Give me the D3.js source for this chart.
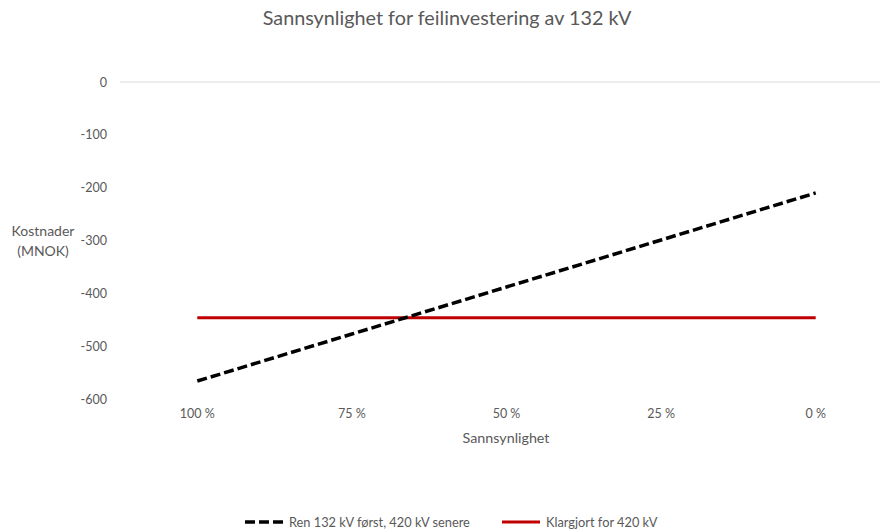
<!DOCTYPE html>
<html>
<head>
<meta charset="utf-8">
<script src="https://cdn.jsdelivr.net/npm/d3@7"></script>
<style>
  html, body { margin: 0; padding: 0; background: #fff; }
  svg text { font-family: Lato, "Open Sans", sans-serif; fill: #595959; }
</style>
</head>
<body>
<svg id="chart" width="880" height="532"></svg>
<script>
// Probability categories (x axis)
const categories = ["100 %", "75 %", "50 %", "25 %", "0 %"];
// Cost in MNOK for each alternative
const pure132First = [-566, -477, -388, -299, -210];
const prepared420 = [-446, -446, -446, -446, -446];
// Value axis ticks
const yTicks = [0, -100, -200, -300, -400, -500, -600];

const svg = d3.select("#chart");

const x = d3.scaleBand().domain(categories).range([120, 893]);
const y = d3.scaleLinear().domain([-600, 0]).range([399, 82]);

// Category axis line drawn at value 0
svg.append("line")
  .attr("x1", x.range()[0]).attr("x2", 880)
  .attr("y1", y(0)).attr("y2", y(0))
  .attr("stroke", "#d9d9d9").attr("stroke-width", 1);

// Value axis labels (plain hyphen for negatives)
const yAxis = d3.axisLeft(y).tickValues(yTicks).tickSize(0).tickPadding(0).tickFormat(d => String(d));
const gy = svg.append("g").attr("transform", "translate(107,0)").call(yAxis);
gy.select(".domain").remove();
gy.selectAll("text").attr("font-size", 12.5).style("fill", "#595959")
  .style("font-family", "Lato, 'Open Sans', sans-serif");

// Category labels placed below the plot
const xAxis = d3.axisBottom(x).tickSize(0).tickPadding(0);
const gx = svg.append("g").attr("transform", "translate(0,409)").call(xAxis);
gx.select(".domain").remove();
gx.selectAll("text").attr("font-size", 12.5).style("fill", "#595959")
  .style("font-family", "Lato, 'Open Sans', sans-serif");

const cx = d => x(d) + x.bandwidth() / 2;

const line = d3.line()
  .x((d, i) => cx(categories[i]))
  .y(d => y(d));

// Prepared for 420 kV
svg.append("path")
  .datum(prepared420)
  .attr("d", line)
  .attr("fill", "none")
  .attr("stroke", "#c00000")
  .attr("stroke-width", 3);

// Pure 132 kV first, 420 kV later
svg.append("path")
  .datum(pure132First)
  .attr("d", line)
  .attr("fill", "none")
  .attr("stroke", "#000")
  .attr("stroke-width", 3.5)
  .attr("stroke-dasharray", "10,4");

// Title
svg.append("text")
  .attr("x", 447).attr("y", 25)
  .attr("text-anchor", "middle")
  .attr("font-size", 19.8)
  .text("Sannsynlighet for feilinvestering av 132 kV");

// Axis titles
svg.append("text")
  .attr("x", 506).attr("y", 443)
  .attr("text-anchor", "middle")
  .attr("font-size", 14.3)
  .text("Sannsynlighet");

const yt = svg.append("text")
  .attr("text-anchor", "middle")
  .attr("font-size", 14);
yt.append("tspan").attr("x", 43).attr("y", 236).text("Kostnader");
yt.append("tspan").attr("x", 43).attr("y", 256).text("(MNOK)");

// Legend
const legend = [
  { label: "Ren 132 kV først, 420 kV senere", color: "#000", dash: "10,4", width: 3.5, x0: 245 },
  { label: "Klargjort for 420 kV", color: "#c00000", dash: null, width: 3, x0: 502 }
];
const lg = svg.append("g");
legend.forEach(l => {
  lg.append("line")
    .attr("x1", l.x0).attr("x2", l.x0 + 38)
    .attr("y1", 522).attr("y2", 522)
    .attr("stroke", l.color).attr("stroke-width", l.width)
    .attr("stroke-dasharray", l.dash);
  lg.append("text")
    .attr("x", l.x0 + 44).attr("y", 526.5)
    .attr("font-size", 12.8)
    .text(l.label);
});
</script>
</body>
</html>
